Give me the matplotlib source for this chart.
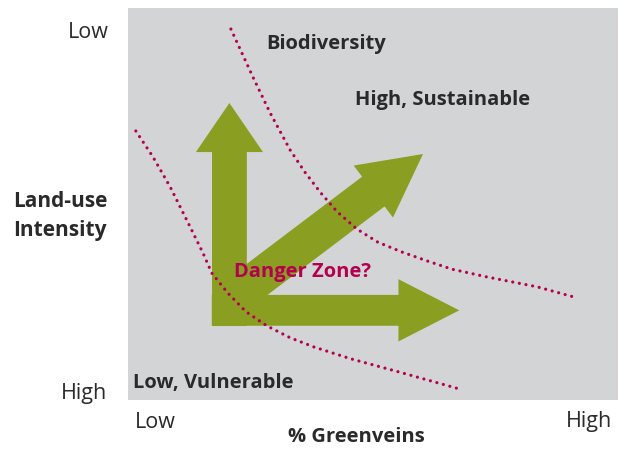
import matplotlib.pyplot as plt

# figure is laid out in pixel units, axes data runs 0..10 x 0..8 (49 px per unit)
W, H = 626, 449

# dotted boundary curves (data units)
upper_x = [2.10, 2.55, 2.90, 3.31, 3.61, 3.94, 4.27, 4.67, 5.10, 5.59, 6.10, 6.61, 7.33, 8.35, 9.18]
upper_y = [7.57, 6.59, 5.86, 5.10, 4.65, 4.22, 3.84, 3.49, 3.22, 3.02, 2.84, 2.67, 2.51, 2.31, 2.08]
lower_x = [0.16, 0.51, 0.86, 1.20, 1.53, 1.71, 2.04, 2.41, 2.84, 3.31, 3.80, 4.55, 5.61, 6.71]
lower_y = [5.49, 4.96, 4.35, 3.67, 3.00, 2.59, 2.18, 1.80, 1.51, 1.27, 1.08, 0.84, 0.55, 0.24]

# arrows: start x, start y, end x, end y, shaft width, head width, head length
arrows = [
    (2.07, 1.51, 2.07, 6.06, 0.71, 1.37, 1.00),   # vertical
    (1.71, 1.83, 6.76, 1.83, 0.63, 1.27, 1.24),   # horizontal
    (2.29, 2.20, 6.02, 5.02, 0.76, 1.33, 1.27),   # diagonal
]

GRAY_BG = '#d3d4d6'
GREEN = '#8a9e22'
CRIMSON = '#b4004f'
TEXT = '#2a2a2a'

plt.rcParams['font.family'] = ['Open Sans', 'DejaVu Sans']


def px(x, y):
    return x / W, 1 - y / H


fig = plt.figure(figsize=(W / 100, H / 100), dpi=100)
ax = fig.add_axes([128 / W, 1 - 400 / H, 490 / W, 392 / H])
ax.set_facecolor(GRAY_BG)
ax.set_xlim(0, 10)
ax.set_ylim(0, 8)
ax.set_xticks([])
ax.set_yticks([])
for s in ax.spines.values():
    s.set_visible(False)

for x0, y0, x1, y1, w, hw, hl in arrows:
    ax.arrow(x0, y0, x1 - x0, y1 - y0, width=w, head_width=hw, head_length=hl,
             length_includes_head=True, color=GREEN, lw=0, zorder=2)

for xs, ys in [(upper_x, upper_y), (lower_x, lower_y)]:
    ax.plot(xs, ys, color=CRIMSON, lw=2.3, linestyle=(0, (0.01, 2.1)),
            dash_capstyle='round', zorder=3)

bold = dict(fontsize=14.5, fontweight='bold', color=TEXT, va='center')
fig.text(*px(266, 44), 'Biodiversity', ha='left', **bold)
fig.text(*px(355, 100), 'High, Sustainable', ha='left', **bold)
fig.text(*px(133, 383), 'Low, Vulnerable', ha='left', **bold)
fig.text(*px(234, 272), 'Danger Zone?', ha='left', fontsize=14.5,
         fontweight='bold', color=CRIMSON, va='center')
fig.text(*px(356, 437), '% Greenveins', ha='center', **bold)
fig.text(*px(13, 216), 'Land-use\nIntensity', ha='left', linespacing=1.45,
         fontsize=15, fontweight='bold', color=TEXT, va='center')

reg = dict(fontsize=15.5, color=TEXT, va='center')
fig.text(*px(88, 32), 'Low', ha='center', **reg)
fig.text(*px(84, 393), 'High', ha='center', **reg)
fig.text(*px(135, 422), 'Low', ha='left', **reg)
fig.text(*px(612, 422), 'High', ha='right', **reg)

fig.savefig('out.png', dpi=100, facecolor='white')
